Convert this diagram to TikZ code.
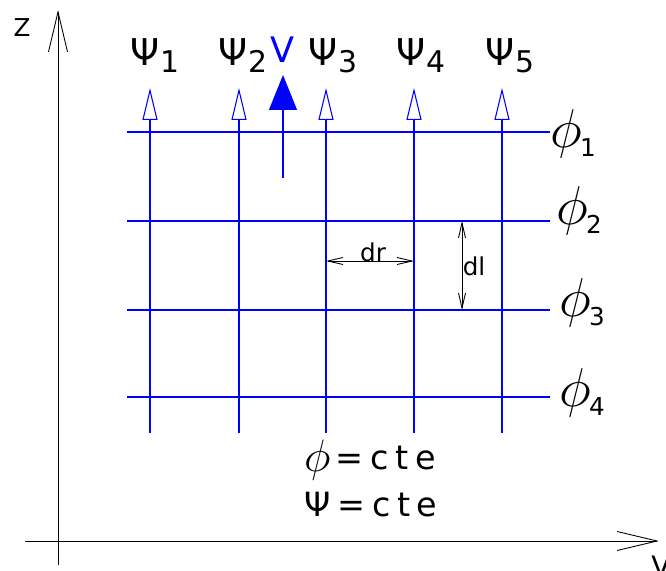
\documentclass[tikz,border=0pt]{standalone}
\usepackage{graphicx}
\usepackage{fontspec}
\setmainfont{DejaVu Sans}
\usepackage{tikz}
\usetikzlibrary{arrows.meta}

\newcommand{\bigphi}{\raisebox{-1pt}{\scalebox{1.5}{$\phi$}}}
\newcommand{\psilab}[1]{Ψ{\fontsize{17}{17}\selectfont\raisebox{-4pt}{#1}}}
\newcommand{\philab}[1]{\bigphi\kern-1pt{\fontsize{14}{14}\selectfont\raisebox{-6pt}{#1}}}

\begin{document}
\begin{tikzpicture}[x=0.02cm,y=-0.02cm,
    axisline/.style={draw=black,line width=0.5pt,
      -{Straight Barb[length=0.8cm,width=0.38cm]}},
    psiline/.style={draw=blue,line width=0.6pt,
      -{Triangle[open,length=0.64cm,width=0.3cm,line width=0.6pt]}},
    philine/.style={draw=blue,line width=0.6pt},
    dimline/.style={draw=black,line width=0.5pt,
      {Straight Barb[length=0.3cm,width=0.14cm]}-{Straight Barb[length=0.3cm,width=0.14cm]}},
    psilabel/.style={font=\fontsize{21}{21}\selectfont,inner sep=0pt},
    philabel/.style={font=\fontsize{21}{21}\selectfont,inner sep=0pt},
    dimlabel/.style={font=\fontsize{14}{14}\selectfont,inner sep=0pt},
    bigtext/.style={font=\fontsize{19}{19}\selectfont\addfontfeature{LetterSpace=20},inner sep=0pt}
  ]
    \useasboundingbox (0,0) rectangle (666,571);

    % axes
    \coordinate (zfoot) at (58,565);
    \coordinate (ztip) at (58,10);
    \coordinate (rfoot) at (25,541);
    \coordinate (rtip) at (659,541);
    \draw[axisline] (zfoot) -- (ztip);
    \draw[axisline] (rfoot) -- (rtip);
    \node[font=\fontsize{14}{14}\selectfont,inner sep=0pt] (zlab) at (22,28) {Z};
    \node[font=\fontsize{16}{16}\selectfont,inner sep=0pt,anchor=north west] (rlab) at (651,556) {V};

    % psi = cte lines
    \coordinate (s1) at (150,433); \coordinate (t1) at (150,88);
    \coordinate (s2) at (239,433); \coordinate (t2) at (239,88);
    \coordinate (s3) at (326,433); \coordinate (t3) at (326,88);
    \coordinate (s4) at (414,433); \coordinate (t4) at (414,88);
    \coordinate (s5) at (502,433); \coordinate (t5) at (502,88);
    \draw[psiline] (s1) -- (t1);
    \draw[psiline] (s2) -- (t2);
    \draw[psiline] (s3) -- (t3);
    \draw[psiline] (s4) -- (t4);
    \draw[psiline] (s5) -- (t5);
    \node[psilabel] (psi1) at (155,56) {\psilab{1}};
    \node[psilabel] (psi2) at (243,56) {\psilab{2}};
    \node[psilabel] (psi3) at (333,56) {\psilab{3}};
    \node[psilabel] (psi4) at (421,56) {\psilab{4}};
    \node[psilabel] (psi5) at (510,56) {\psilab{5}};

    % phi = cte lines
    \coordinate (a1) at (127,132); \coordinate (b1) at (550,132);
    \coordinate (a2) at (127,221); \coordinate (b2) at (550,221);
    \coordinate (a3) at (127,310); \coordinate (b3) at (550,310);
    \coordinate (a4) at (127,397); \coordinate (b4) at (550,397);
    \draw[philine] (a1) -- (b1);
    \draw[philine] (a2) -- (b2);
    \draw[philine] (a3) -- (b3);
    \draw[philine] (a4) -- (b4);
    \node[philabel] (phi1) at (573,134) {\philab{1}};
    \node[philabel] (phi2) at (579,211) {\philab{2}};
    \node[philabel] (phi3) at (582,303) {\philab{3}};
    \node[philabel] (phi4) at (582,393) {\philab{4}};

    % velocity
    \coordinate (vfoot) at (283,178);
    \coordinate (vtip) at (283,75);
    \draw[draw=blue,line width=0.6pt,
      -{Triangle[length=0.7cm,width=0.56cm,fill=blue]}] (vfoot) -- (vtip);
    \node[font=\fontsize{20}{20}\selectfont,text=blue,inner sep=0pt] (vlab) at (283,50) {V};

    % dr and dl
    \coordinate (dr1) at (326,261); \coordinate (dr2) at (414,261);
    \coordinate (dl1) at (462,221); \coordinate (dl2) at (462,310);
    \draw[dimline] (dr1) -- (dr2);
    \draw[dimline] (dl1) -- (dl2);
    \node[dimlabel] (drlab) at (373,252) {dr};
    \node[dimlabel] (dllab) at (474,266) {dl};

    \node[bigtext] (phicte) at (370,460) {\bigphi\,=cte};
    \node[bigtext] (psicte) at (371,505) {Ψ=cte};
  \end{tikzpicture}
\end{document}
